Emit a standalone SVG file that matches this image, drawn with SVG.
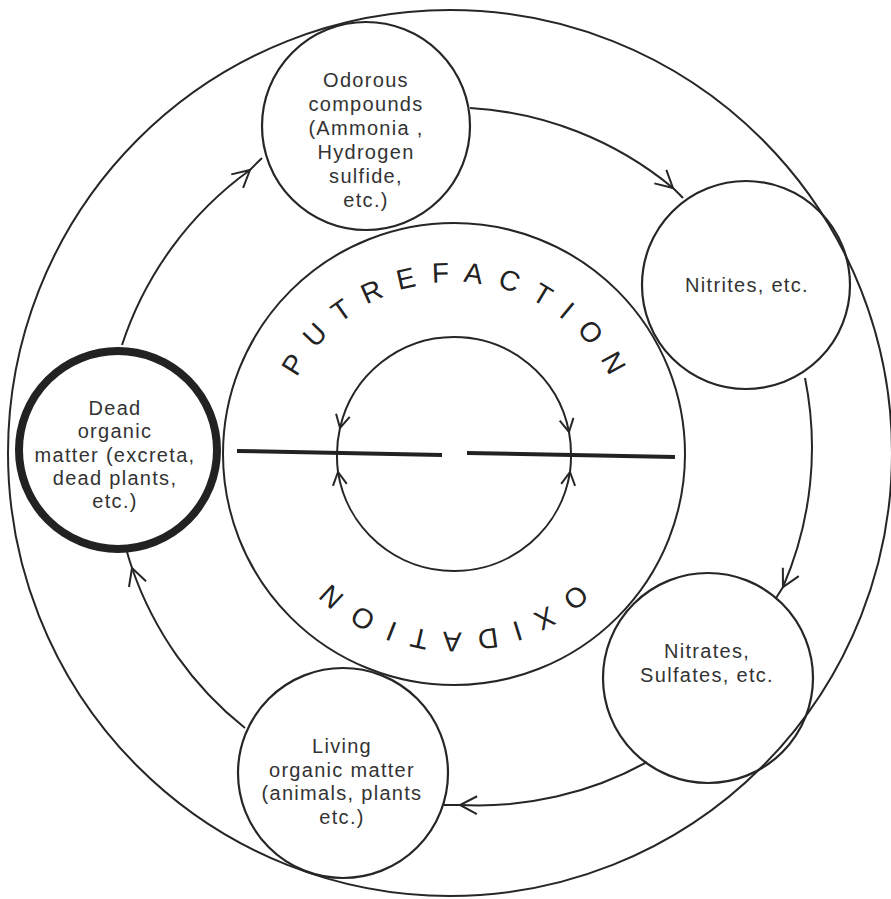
<svg xmlns="http://www.w3.org/2000/svg" width="891" height="899" viewBox="0 0 891 899">
<defs>
<style>
.ln{fill:none;stroke:#262626;stroke-width:2}
.node{fill:none;stroke:#262626;stroke-width:2.2}
.bold{fill:none;stroke:#222;stroke-width:8}
.bar{fill:none;stroke:#222;stroke-width:4}
.t{font-family:"Liberation Sans",Arial,sans-serif;font-size:20px;letter-spacing:1.3px;fill:#333;text-anchor:middle}
.arc{font-family:"Liberation Sans",Arial,sans-serif;font-size:28px;fill:#222}
</style>
<marker id="ah" markerUnits="userSpaceOnUse" markerWidth="24" markerHeight="24" viewBox="-20 -12 24 24" refX="0" refY="0" orient="auto">
<path d="M -17 -9 L 0 0 L -17 9" fill="none" stroke="#262626" stroke-width="2"/>
</marker>
<marker id="ahs" markerUnits="userSpaceOnUse" markerWidth="24" markerHeight="24" viewBox="-20 -12 24 24" refX="0" refY="0" orient="auto">
<path d="M -13 -7 L 0 0 L -13 7" fill="none" stroke="#262626" stroke-width="2"/>
</marker>
<path id="topArc" d="M 278 458 A 176 176 0 0 1 630 458"/>
<path id="botArc" d="M 634 452 A 180 180 0 0 1 274 452"/>
</defs>
<rect width="891" height="899" fill="#fff"/>

<g id="rings">
<ellipse class="ln" cx="450" cy="453" rx="442" ry="443"/>
<circle class="ln" cx="454" cy="454" r="231"/>
</g>

<g id="center-cycle">
<path class="ln" d="M 454 337 A 117 117 0 0 0 340 428 A 117 117 0 0 0 337 454" marker-mid="url(#ahs)"/>
<path class="ln" d="M 454 337 A 117 117 0 0 1 569 432 A 117 117 0 0 1 571 454" marker-mid="url(#ahs)"/>
<path class="ln" d="M 454 571 A 117 117 0 0 1 338 472 A 117 117 0 0 1 337 454" marker-mid="url(#ahs)"/>
<path class="ln" d="M 454 571 A 117 117 0 0 0 570 472 A 117 117 0 0 0 571 454" marker-mid="url(#ahs)"/>
<line class="bar" x1="237" y1="451" x2="442" y2="455"/>
<line class="bar" x1="467" y1="453" x2="675" y2="457"/>
</g>

<g id="labels">
<text class="arc" letter-spacing="15.3"><textPath href="#topArc" startOffset="83">PUTREFACTION</textPath></text>
<text class="arc" letter-spacing="15.1"><textPath href="#botArc" startOffset="146">OXIDATION</textPath></text>
</g>

<g id="connectors">
<path class="ln" d="M 122 345 A 350 350 0 0 1 250 170 A 350 350 0 0 1 262 158" marker-mid="url(#ah)"/>
<path class="ln" d="M 470 108 A 350 350 0 0 1 673 188 A 350 350 0 0 1 683 198" marker-mid="url(#ah)"/>
<path class="ln" d="M 805 378 A 350 350 0 0 1 783 587 A 350 350 0 0 1 776 598" marker-mid="url(#ah)"/>
<path class="ln" d="M 647 762 A 350 350 0 0 1 460 805 A 350 350 0 0 1 444 805" marker-mid="url(#ah)"/>
<path class="ln" d="M 245 728 A 350 350 0 0 1 132 568 A 350 350 0 0 1 127 552" marker-mid="url(#ah)"/>
</g>

<g id="node-odorous">
<circle class="node" cx="366" cy="126" r="104"/>
<text class="t"><tspan x="366" y="87">Odorous</tspan><tspan x="366" y="111">compounds</tspan><tspan x="366" y="135">(Ammonia ,</tspan><tspan x="366" y="159">Hydrogen</tspan><tspan x="366" y="183">sulfide,</tspan><tspan x="366" y="207">etc.)</tspan></text>
</g>

<g id="node-nitrites">
<circle class="node" cx="746" cy="285" r="104"/>
<text class="t" x="747" y="292">Nitrites, etc.</text>
</g>

<g id="node-nitrates">
<circle class="node" cx="708" cy="678" r="105"/>
<text class="t"><tspan x="707" y="658">Nitrates,</tspan><tspan x="707" y="682">Sulfates, etc.</tspan></text>
</g>

<g id="node-living">
<circle class="node" cx="343" cy="773" r="105"/>
<text class="t"><tspan x="342" y="753">Living</tspan><tspan x="342" y="777">organic matter</tspan><tspan x="342" y="800">(animals, plants</tspan><tspan x="342" y="824">etc.)</tspan></text>
</g>

<g id="node-dead">
<circle class="bold" cx="118" cy="450" r="99"/>
<text class="t"><tspan x="115" y="415">Dead</tspan><tspan x="115" y="438">organic</tspan><tspan x="115" y="462">matter (excreta,</tspan><tspan x="115" y="485">dead plants,</tspan><tspan x="115" y="508">etc.)</tspan></text>
</g>
</svg>
